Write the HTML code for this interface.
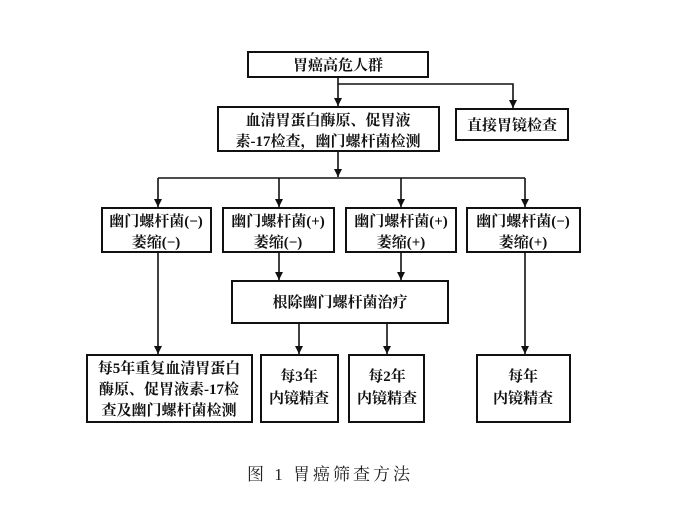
<!DOCTYPE html>
<html><head><meta charset="utf-8"><style>
html,body{margin:0;padding:0;background:#fff;}
svg{display:block;}
text{font-family:"Liberation Serif","Noto Serif CJK SC","Noto Sans CJK SC",serif;font-weight:bold;font-size:15px;fill:#111;}
.cap{font-weight:normal;font-size:17px;letter-spacing:3px;fill:#222;}
</style></head><body>
<svg width="674" height="511" viewBox="0 0 674 511" xmlns="http://www.w3.org/2000/svg">
<defs><marker id="a" markerWidth="8" markerHeight="8" refX="8" refY="4" orient="auto" markerUnits="userSpaceOnUse"><path d="M0,0 L8,4 L0,8 z" fill="#111"/></marker></defs>
<g fill="none" stroke="#111" stroke-width="2">
<rect x="248" y="52" width="180" height="25"/>
<rect x="218" y="107" width="221" height="44"/>
<rect x="456" y="109" width="112" height="31"/>
<rect x="102" y="208" width="109" height="44"/>
<rect x="223" y="208" width="111" height="44"/>
<rect x="346" y="208" width="110" height="44"/>
<rect x="467" y="208" width="113" height="44"/>
<rect x="232" y="281" width="216" height="42"/>
<rect x="87" y="355" width="165" height="67"/>
<rect x="261" y="355" width="77" height="67"/>
<rect x="349" y="355" width="75" height="67"/>
<rect x="477" y="355" width="93" height="67"/>
</g>
<g stroke="#111" stroke-width="1.6" fill="none">
<line x1="338" y1="77" x2="338" y2="106" marker-end="url(#a)"/>
<polyline points="338,84 513,84 513,108" marker-end="url(#a)"/>
<line x1="338" y1="151" x2="338" y2="177" marker-end="url(#a)"/>
<line x1="158" y1="178" x2="525" y2="178"/>
<line x1="158" y1="178" x2="158" y2="207" marker-end="url(#a)"/>
<line x1="279" y1="178" x2="279" y2="207" marker-end="url(#a)"/>
<line x1="401" y1="178" x2="401" y2="207" marker-end="url(#a)"/>
<line x1="525" y1="178" x2="525" y2="207" marker-end="url(#a)"/>
<line x1="279" y1="252" x2="279" y2="280" marker-end="url(#a)"/>
<line x1="401" y1="252" x2="401" y2="280" marker-end="url(#a)"/>
<line x1="158" y1="252" x2="158" y2="354" marker-end="url(#a)"/>
<line x1="525" y1="252" x2="525" y2="354" marker-end="url(#a)"/>
<line x1="299" y1="323" x2="299" y2="354" marker-end="url(#a)"/>
<line x1="387" y1="323" x2="387" y2="354" marker-end="url(#a)"/>
</g>
<g text-anchor="middle">
<text x="338" y="70">胃癌高危人群</text>
<text x="328" y="125">血清胃蛋白酶原、促胃液</text>
<text x="328" y="146">素-17检查，幽门螺杆菌检测</text>
<text x="512" y="130">直接胃镜检查</text>
<text x="156" y="226">幽门螺杆菌(−)</text><text x="156" y="247">萎缩(−)</text>
<text x="278" y="226">幽门螺杆菌(+)</text><text x="278" y="247">萎缩(−)</text>
<text x="401" y="226">幽门螺杆菌(+)</text><text x="401" y="247">萎缩(+)</text>
<text x="523" y="226">幽门螺杆菌(−)</text><text x="523" y="247">萎缩(+)</text>
<text x="340" y="307">根除幽门螺杆菌治疗</text>
<text x="169" y="373">每5年重复血清胃蛋白</text>
<text x="169" y="394">酶原、促胃液素-17检</text>
<text x="169" y="415">查及幽门螺杆菌检测</text>
<text x="299" y="381">每3年</text><text x="299" y="403">内镜精查</text>
<text x="387" y="381">每2年</text><text x="387" y="403">内镜精查</text>
<text x="523" y="381">每年</text><text x="523" y="403">内镜精查</text>
<text class="cap" x="330" y="480">图 1 胃癌筛查方法</text>
</g>
</svg>
</body></html>
